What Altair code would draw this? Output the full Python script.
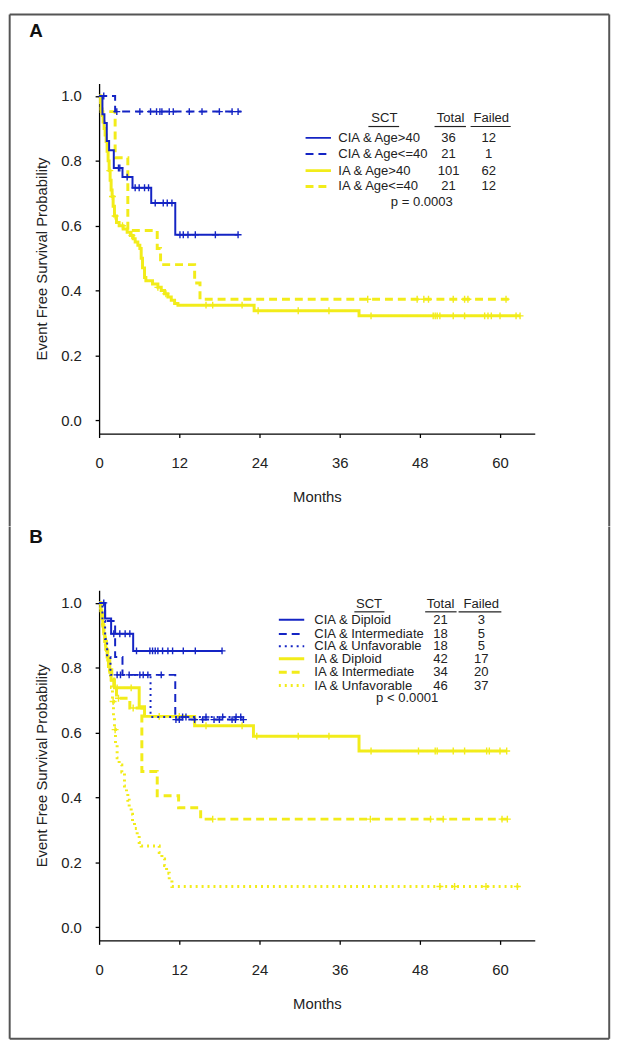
import altair as alt
import pandas as pd

BLUE = "#1424c4"
YELLOW = "#f2ec1a"
FONT = "Liberation Sans"

# ---------------- Panel A data ----------------
a1_t = [0, 0.5, 0.8, 1.15, 1.5, 2.2, 3.5, 5.0, 7.8, 11.4, 20.8]
a1_s = [1.0, 0.944, 0.917, 0.861, 0.833, 0.778, 0.750, 0.717, 0.670, 0.572, 0.572]
a1_c = [2.9, 3.1, 4.2, 5.4, 6.0, 6.8, 7.4, 8.4, 9.6, 10.2, 10.9, 12.1, 12.6, 13.3, 14.4, 17.4, 20.8]

a2_t = [0, 2.4, 21.3]
a2_s = [1.0, 0.952, 0.952]
a2_c = [0.7, 2.65, 6.1, 7.7, 8.6, 9.1, 9.4, 10.5, 11.1, 13.5, 15.4, 18.0, 19.9, 20.8]

a3_t = [0, 0.15, 0.3, 0.45, 0.6, 0.75, 0.9, 1.05, 1.2, 1.35, 1.5, 1.65, 1.8, 1.95, 2.1, 2.3, 2.6,
        3.0, 3.6, 4.2, 4.7, 5.1, 5.4, 5.8, 6.1, 6.3, 6.5, 6.8, 7.0, 8.0, 8.8, 9.3, 9.8, 10.3,
        10.8, 11.3, 11.8, 23.2, 38.9, 63.0]
a3_s = [1.0, 0.98, 0.96, 0.94, 0.92, 0.90, 0.88, 0.86, 0.83, 0.80, 0.77, 0.74, 0.71, 0.69, 0.66,
        0.63, 0.61, 0.60, 0.59, 0.58, 0.57, 0.56, 0.55, 0.54, 0.53, 0.50, 0.47, 0.44, 0.43, 0.42,
        0.41, 0.40, 0.39, 0.38, 0.37, 0.36, 0.355, 0.338, 0.322, 0.322]
a3_c = [1.6, 2.0, 2.4, 3.5, 4.9, 8.8, 10.0, 16.0, 17.0, 21.4, 23.8, 29.8, 34.4, 40.7, 50.0, 50.3,
        50.6, 51.0, 53.0, 54.7, 57.7, 58.2, 58.7, 60.0, 62.4, 63.0]

a4_t = [0, 0.3, 2.4, 4.3, 8.7, 9.2, 14.3, 15.1, 61.3]
a4_s = [1.0, 0.952, 0.81, 0.585, 0.53, 0.48, 0.423, 0.373, 0.373]
a4_c = [40.2, 47.6, 48.6, 49.3, 53.0, 54.7, 55.2, 60.9]

# ---------------- Panel B data ----------------
b1_t = [0, 0.9, 1.8, 5.1, 18.4]
b1_s = [1.0, 0.952, 0.905, 0.852, 0.852]
b1_c = [0.7, 2.2, 3.1, 3.9, 4.6, 5.6, 7.6, 8.0, 8.4, 8.8, 9.5, 10.3, 11.0, 12.6, 14.4, 18.4]

b2_t = [0, 0.9, 2.4, 3.5, 11.4, 21.6]
b2_s = [1.0, 0.944, 0.833, 0.778, 0.640, 0.640]
b2_c = [6.1, 6.6, 7.3, 9.3, 11.5, 12.0, 14.3, 15.5, 17.2, 18.0, 19.9, 20.4, 21.6]

b3_t = [0, 0.5, 0.9, 1.2, 1.7, 7.7, 21.4]
b3_s = [1.0, 0.944, 0.889, 0.833, 0.778, 0.648, 0.648]
b3_c = [2.7, 3.2, 4.5, 12.5, 13.0, 16.0, 18.5, 20.5, 21.2]

b4_t = [0, 0.25, 0.4, 0.55, 0.7, 0.85, 1.0, 1.2, 1.4, 1.6, 1.8, 2.3, 6.0, 6.8, 14.3, 23.1, 38.9, 61.0]
b4_s = [1.0, 0.976, 0.952, 0.929, 0.905, 0.881, 0.857, 0.833, 0.810, 0.786, 0.762, 0.738, 0.68,
        0.65, 0.621, 0.589, 0.543, 0.543]
b4_c = [2.7, 4.8, 9.0, 12.0, 16.0, 21.4, 23.6, 29.8, 34.4, 40.7, 47.8, 50.3, 50.6, 53.0, 54.7,
        58.0, 58.4, 60.0, 61.0]

b5_t = [0, 0.3, 0.5, 0.7, 0.9, 1.1, 1.3, 1.6, 1.9, 2.2, 2.6, 4.6, 6.4, 8.7, 11.9, 15.2, 61.2]
b5_s = [1.0, 0.971, 0.941, 0.912, 0.882, 0.853, 0.824, 0.794, 0.765, 0.735, 0.706, 0.676, 0.48,
        0.405, 0.368, 0.333, 0.333]
b5_c = [2.9, 5.1, 17.0, 40.6, 49.6, 51.5, 60.3, 61.1]

b6_t = [0, 0.2, 0.35, 0.5, 0.65, 0.8, 0.95, 1.1, 1.25, 1.4, 1.55, 1.7, 1.85, 2.0, 2.15, 2.3, 2.45,
        2.7, 3.0, 3.4, 3.8, 4.1, 4.3, 4.5, 4.8, 5.0, 5.3, 5.7, 6.0, 6.3, 9.0, 9.4, 9.8, 10.1, 10.5,
        10.9, 63.0]
b6_s = [1.0, 0.978, 0.957, 0.935, 0.913, 0.891, 0.870, 0.848, 0.826, 0.804, 0.783, 0.761, 0.739,
        0.696, 0.652, 0.609, 0.565, 0.522, 0.50, 0.478, 0.435, 0.413, 0.391, 0.37, 0.348, 0.326,
        0.304, 0.283, 0.261, 0.25, 0.23, 0.21, 0.19, 0.166, 0.146, 0.125, 0.125]
b6_c = [2.1, 2.4, 51.0, 53.2, 57.9, 62.6]

# legend texts
a_labels = ["CIA & Age>40", "CIA & Age<=40", "IA & Age>40", "IA & Age<=40"]
a_total = ["36", "21", "101", "21"]
a_failed = ["12", "1", "62", "12"]
a_p = "p = 0.0003"

b_labels = ["CIA & Diploid", "CIA & Intermediate", "CIA & Unfavorable",
            "IA & Diploid", "IA & Intermediate", "IA & Unfavorable"]
b_total = ["21", "18", "18", "42", "34", "46"]
b_failed = ["3", "5", "5", "17", "20", "37"]
b_p = "p < 0.0001"

headers = ["SCT", "Total", "Failed"]

SOLID = [1, 0]
DASH = [8, 5]
DOT = [2, 4]

W, H = 440, 353.6
xscale = alt.Scale(domain=[0, 65.2], nice=False, zero=False)
yscale = alt.Scale(domain=[-0.041, 1.039], nice=False, zero=False)

xaxis = alt.Axis(values=[0, 12, 24, 36, 48, 60], title="Months", tickSize=4, grid=False,
                 labelFontSize=15, titleFontSize=15, labelFont=FONT, titleFont=FONT,
                 labelPadding=18, titlePadding=20, domainColor="black", tickColor="black",
                 labelColor="#222", titleColor="#222", titleFontWeight="normal",
                 domainWidth=1.3, tickWidth=1.3, labelFlush=False)
yaxis = alt.Axis(values=[0, 0.2, 0.4, 0.6, 0.8, 1.0], format=".1f",
                 title="Event Free Survival Probability", tickSize=4, grid=False,
                 labelFontSize=15, titleFontSize=15, labelFont=FONT, titleFont=FONT,
                 labelPadding=14, titlePadding=11, domainColor="black", tickColor="black",
                 labelColor="#222", titleColor="#222", titleFontWeight="normal",
                 domainWidth=1.3, tickWidth=1.3, labelFlush=False)

X = alt.X("t:Q", scale=xscale, axis=xaxis)
Y = alt.Y("s:Q", scale=yscale, axis=yaxis)


def step_at(ts, ss, c):
    v = ss[0]
    for t, s in zip(ts, ss):
        if t <= c:
            v = s
    return v


def curve(ts, ss, cens, color, dash, width, msize):
    df = pd.DataFrame({"t": ts, "s": ss})
    line = alt.Chart(df).mark_line(interpolate="step-after", color=color, strokeDash=dash,
                                   strokeWidth=width, clip=True).encode(x=X, y=Y)
    cdf = pd.DataFrame({"t": cens, "s": [step_at(ts, ss, c) for c in cens]})
    pts = alt.Chart(cdf).mark_point(shape="M0,-1L0,1M-1,0L1,0", filled=False, color=color,
                                    size=msize, strokeWidth=1.4, opacity=1).encode(x=X, y=Y)
    return [line, pts]


def legend(rows_y, sx0, sx1, lx, tx, fx, labels, totals, faileds, styles,
           hy, hx, uy, ux, p_text, px, py, fsize):
    layers = []
    for y, (color, dash, width) in zip(rows_y, styles):
        d = pd.DataFrame({"t": [sx0], "t2": [sx1], "s": [y]})
        layers.append(alt.Chart(d).mark_rule(color=color, strokeDash=dash, strokeWidth=width)
                      .encode(x=X, x2="t2:Q", y=Y))
    ldf = pd.DataFrame({"t": [lx] * len(labels), "s": rows_y, "txt": labels})
    layers.append(alt.Chart(ldf).mark_text(align="left", baseline="middle", font=FONT,
                                           fontSize=fsize, color="#222")
                  .encode(x=X, y=Y, text="txt:N"))
    ndf = pd.DataFrame({"t": [tx] * len(totals) + [fx] * len(faileds),
                        "s": list(rows_y) * 2, "txt": totals + faileds})
    layers.append(alt.Chart(ndf).mark_text(align="center", baseline="middle", font=FONT,
                                           fontSize=fsize, color="#222")
                  .encode(x=X, y=Y, text="txt:N"))
    hdf = pd.DataFrame({"t": hx + [px], "s": [hy] * 3 + [py], "txt": headers + [p_text]})
    layers.append(alt.Chart(hdf).mark_text(align="center", baseline="middle", font=FONT,
                                           fontSize=fsize, color="#222")
                  .encode(x=X, y=Y, text="txt:N"))
    udf = pd.DataFrame({"t": [u[0] for u in ux], "t2": [u[1] for u in ux], "s": [uy] * 3})
    layers.append(alt.Chart(udf).mark_rule(color="#222", strokeWidth=1.2)
                  .encode(x=X, x2="t2:Q", y=Y))
    return layers


def frame(top, bottom, letter, ly, y0, y1):
    fr = []
    L, R = -90.3, 515.2
    specs = []
    if top is not None:
        specs.append((L, R, top, top))
    if bottom is not None:
        specs.append((L, R, bottom, bottom))
    specs.append((L, L, y0, y1))
    specs.append((R, R, y0, y1))
    for x0, x1, a, b in specs:
        fr.append(alt.Chart(pd.DataFrame({"k": [0]})).mark_rule(color="#555", strokeWidth=2)
                  .encode(x=alt.value(x0), x2=alt.value(x1), y=alt.value(a), y2=alt.value(b)))
    fr.append(alt.Chart(pd.DataFrame({"k": [0]})).mark_text(
        text=letter, font=FONT, fontSize=19, fontWeight="bold", color="#111",
        align="center", baseline="middle").encode(x=alt.value(-63.8), y=alt.value(ly)))
    return fr


A_styles = [(BLUE, SOLID, 2), (BLUE, DASH, 2), (YELLOW, SOLID, 3), (YELLOW, DASH, 3)]
B_styles = [(BLUE, SOLID, 2), (BLUE, DASH, 2), (BLUE, DOT, 2),
            (YELLOW, SOLID, 3), (YELLOW, DASH, 3), (YELLOW, DOT, 3)]

layersA = frame(-69.7, None, "A", -52.7, -69.7, 447.3)
layersA += curve(a3_t, a3_s, a3_c, YELLOW, SOLID, 3, 49)
layersA += curve(a4_t, a4_s, a4_c, YELLOW, DASH, 3, 49)
layersA += curve(a1_t, a1_s, a1_c, BLUE, SOLID, 2, 49)
layersA += curve(a2_t, a2_s, a2_c, BLUE, DASH, 2, 49)
layersA += legend([0.871, 0.821, 0.770, 0.721], 30.9, 34.7, 35.8, 52.3, 58.3,
                  a_labels, a_total, a_failed, A_styles,
                  0.931, [42.7, 52.6, 58.7], 0.906,
                  [(40.3, 44.9), (50.2, 54.9), (55.6, 61.6)], a_p, 48.3, 0.672, 13.2)

layersB = frame(None, 453.0, "B", -54.2, -64.2, 453.0)
layersB += curve(b4_t, b4_s, b4_c, YELLOW, SOLID, 3, 49)
layersB += curve(b5_t, b5_s, b5_c, YELLOW, DASH, 3, 49)
layersB += curve(b6_t, b6_s, b6_c, YELLOW, DOT, 3, 49)
layersB += curve(b1_t, b1_s, b1_c, BLUE, SOLID, 2, 49)
layersB += curve(b2_t, b2_s, b2_c, BLUE, DASH, 2, 49)
layersB += curve(b3_t, b3_s, b3_c, BLUE, DOT, 2, 49)
layersB += legend([0.948, 0.904, 0.866, 0.828, 0.786, 0.745], 26.9, 30.7, 32.2, 51.1, 57.2,
                  b_labels, b_total, b_failed, B_styles,
                  0.996, [40.4, 51.1, 57.2], 0.9725,
                  [(38.2, 42.7), (48.8, 53.5), (53.8, 60.2)], b_p, 46.1, 0.708, 13.2)

panelA = alt.layer(*layersA).properties(width=W, height=H)
panelB = alt.layer(*layersB).properties(width=W, height=H)

chart = alt.vconcat(panelA, panelB, spacing=157.9, bounds="flush").properties(
    padding=0, background="white"
).configure_view(stroke=None)

chart.save("out.html", embed_options={"renderer": "svg", "actions": False})
